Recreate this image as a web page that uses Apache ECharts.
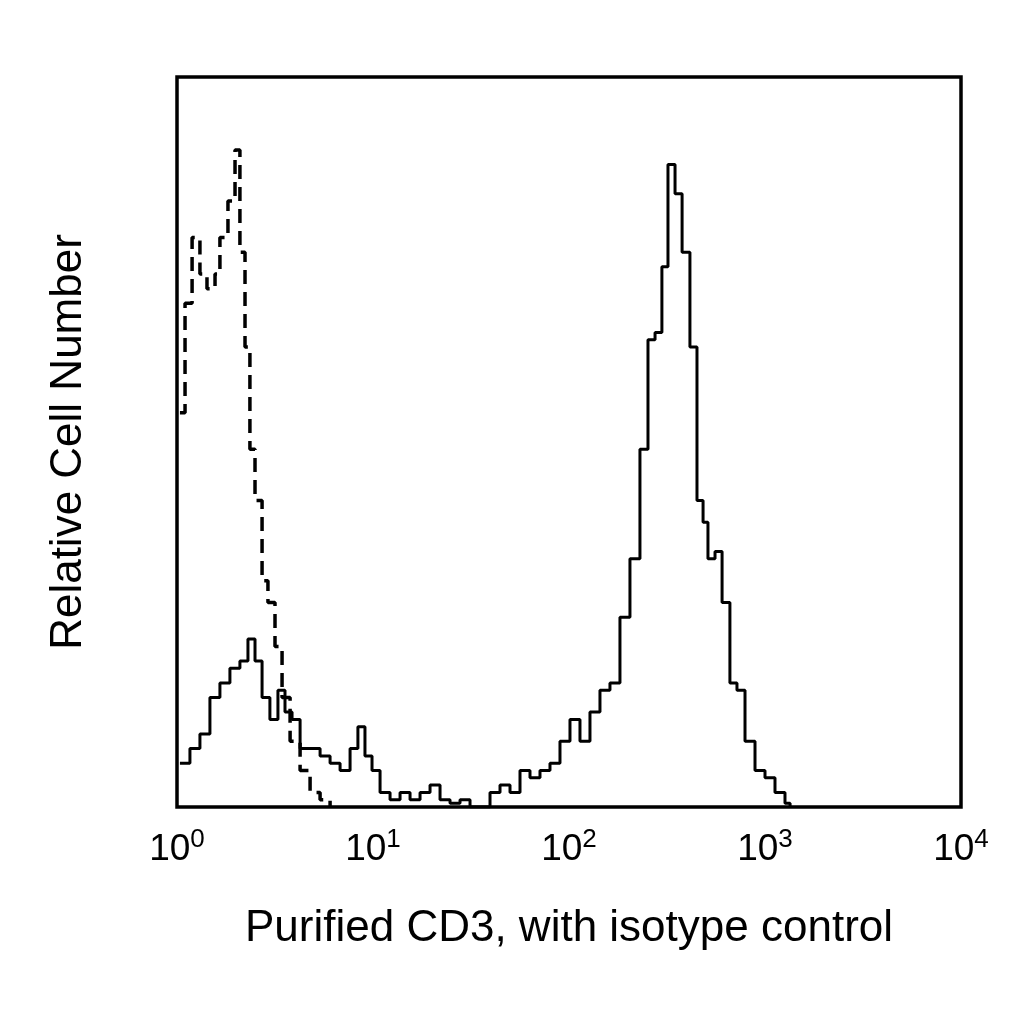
<!DOCTYPE html><html><head><meta charset="utf-8">
<script src="https://cdn.jsdelivr.net/npm/echarts@6/dist/echarts.min.js"></script>
<style>html,body{margin:0;background:#fff}#c{width:1024px;height:1024px}</style></head><body><div id="c"></div>
<script>
const xTicks=['0','1','2','3','4'];
const isoX=[0.015,0.041,0.077,0.117,0.153,0.194,0.219,0.260,0.296,0.321,0.347,0.372,0.398,0.434,0.464,0.500,0.536,0.577,0.628,0.679,0.730,0.781];
const isoY=[54,69,78,73,71,73,78,83,90,76,63,49,42,31,28,22,15,9,5,2,1,0];
const cd3X=[0.015,0.066,0.117,0.168,0.219,0.270,0.321,0.362,0.398,0.434,0.474,0.515,0.551,0.587,0.628,0.679,0.730,0.781,0.832,0.883,0.923,0.959,0.995,1.036,1.087,1.138,1.189,1.240,1.291,1.342,1.393,1.444,1.495,1.546,1.597,1.648,1.699,1.750,1.801,1.852,1.903,1.954,2.005,2.056,2.107,2.158,2.209,2.260,2.311,2.362,2.403,2.439,2.474,2.505,2.541,2.577,2.617,2.653,2.684,2.709,2.745,2.781,2.821,2.857,2.898,2.949,3.000,3.051,3.102,3.128];
const cd3Y=[6,8,10,15,17,19,20,23,20,15,12,16,13,12,8,8,7,6,5,8,11,7,5,2,1,2,1,2,3,1,0.5,1,0,0,2,3,2,5,4,5,6,9,12,9,13,16,17,26,34,49,64,65,74,88,84,76,63,42,39,34,35,28,17,16,9,5,4,2,0.5,0];
const zip=(a,b)=>a.map((v,i)=>[v,b[i]]);
const ch=echarts.init(document.getElementById('c'));
ch.setOption({animation:false,
grid:{left:177,right:63,top:77,bottom:217,show:true,borderColor:'#000',borderWidth:3.5,backgroundColor:'transparent'},
xAxis:{type:'value',min:0,max:4,interval:1,splitLine:{show:false},axisLine:{show:false},axisTick:{show:false},
 axisLabel:{margin:20,formatter:v=>'10{s|'+xTicks[v]+'}',color:'#000',fontSize:37,fontFamily:'Liberation Sans',rich:{s:{fontSize:26,verticalAlign:'top',padding:[0,0,20,0],color:'#000',fontFamily:'Liberation Sans'}}},
 name:'Purified CD3, with isotype control',nameLocation:'middle',nameGap:100,nameTextStyle:{color:'#000',fontSize:44,fontFamily:'Liberation Sans'}},
yAxis:{type:'value',min:0,max:100,show:true,axisLine:{show:false},axisTick:{show:false},axisLabel:{show:false},splitLine:{show:false},
 name:'Relative Cell Number',nameLocation:'middle',nameGap:86,nameTextStyle:{color:'#000',fontSize:44,fontFamily:'Liberation Sans'}},
series:[
 {type:'line',step:'end',symbol:'none',data:zip(isoX,isoY),lineStyle:{color:'#000',width:3.5,type:[14,8]}},
 {type:'line',step:'end',symbol:'none',data:zip(cd3X,cd3Y),lineStyle:{color:'#000',width:3}}
]});
</script></body></html>
